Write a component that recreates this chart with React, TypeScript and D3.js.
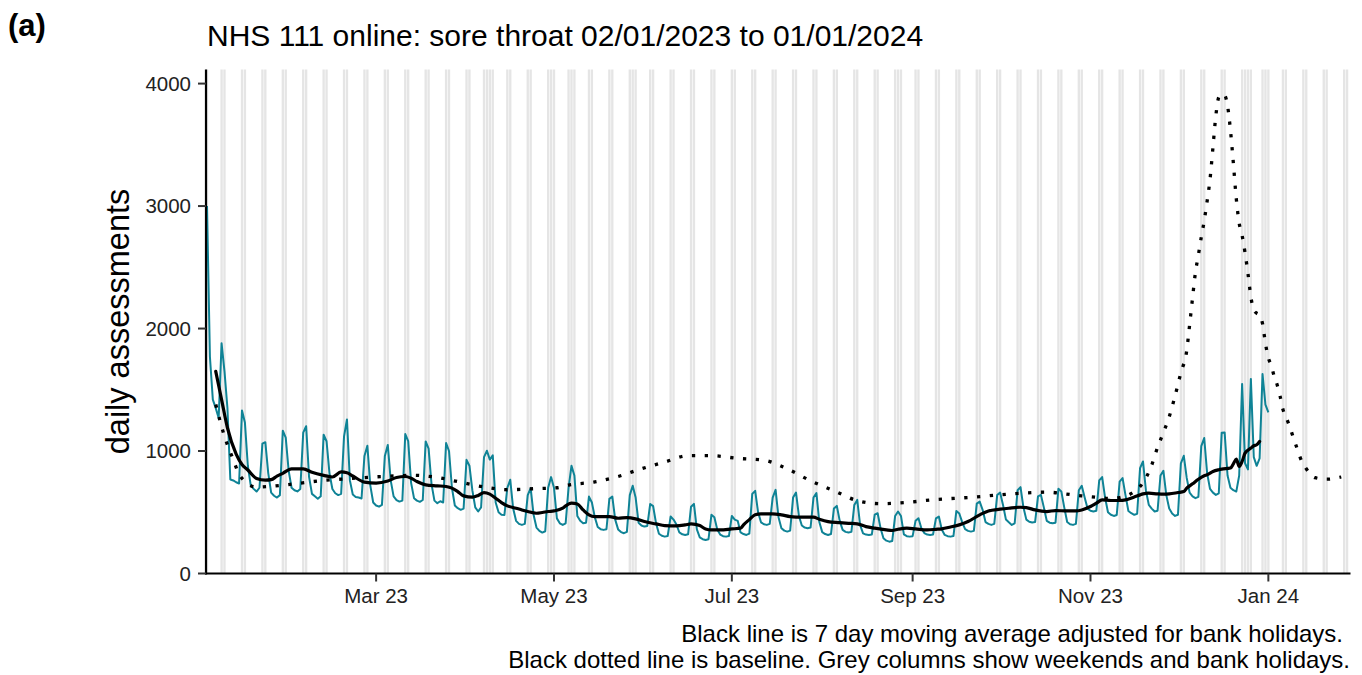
import React from 'react';
import * as d3 from 'd3';

// NHS 111 online, sore throat: daily assessments, 02/01/2023 to 01/01/2024
const startDate = Date.UTC(2023, 0, 2);
const axisEnd = Date.UTC(2024, 0, 29);

// one row per week, Mon..Sun, first row is w/c 02/01/2023
const dailyWeeks: number[][] = [
  [3000, 1770, 1420, 1350, 1270, 1880, 1650],
  [1353, 767, 760, 745, 735, 1330, 1233],
  [880, 720, 691, 669, 700, 1060, 1072],
  [820, 660, 635, 620, 640, 1166, 1110],
  [840, 700, 680, 670, 690, 1150, 1202],
  [790, 650, 630, 610, 630, 1133, 1080],
  [820, 690, 655, 640, 650, 1120, 1257],
  [760, 645, 625, 620, 612, 960, 1043],
  [720, 580, 555, 546, 560, 960, 1050],
  [760, 630, 600, 587, 595, 1138, 1080],
  [740, 615, 595, 585, 600, 1078, 1020],
  [730, 595, 574, 590, 580, 1065, 1000],
  [700, 555, 533, 520, 530, 928, 880],
  [680, 540, 506, 540, 950, 1002, 930],
  [964, 580, 500, 480, 478, 700, 765],
  [530, 430, 405, 397, 405, 640, 697],
  [480, 375, 348, 334, 345, 700, 787],
  [700, 450, 410, 397, 410, 700, 879],
  [800, 470, 430, 410, 415, 628, 580],
  [460, 380, 362, 356, 362, 610, 628],
  [440, 360, 338, 329, 340, 640, 716],
  [620, 415, 392, 383, 388, 568, 550],
  [410, 325, 308, 301, 306, 465, 440],
  [400, 335, 320, 315, 320, 545, 568],
  [360, 295, 280, 274, 280, 479, 460],
  [360, 318, 305, 301, 306, 470, 440],
  [430, 335, 322, 315, 325, 650, 675],
  [500, 418, 402, 397, 405, 620, 683],
  [460, 370, 350, 342, 350, 620, 661],
  [470, 392, 375, 370, 375, 620, 656],
  [420, 338, 322, 315, 322, 530, 552],
  [430, 356, 340, 334, 340, 560, 601],
  [395, 328, 318, 315, 318, 480, 492],
  [370, 288, 268, 260, 265, 470, 506],
  [470, 320, 305, 301, 305, 430, 451],
  [370, 330, 318, 315, 318, 450, 465],
  [360, 315, 305, 301, 306, 511, 490],
  [420, 362, 348, 342, 348, 570, 587],
  [520, 420, 405, 397, 405, 640, 661],
  [560, 440, 418, 397, 410, 680, 705],
  [540, 440, 422, 416, 420, 630, 642],
  [540, 430, 415, 410, 415, 691, 670],
  [540, 420, 402, 397, 405, 680, 716],
  [620, 530, 512, 506, 512, 760, 787],
  [620, 500, 480, 470, 478, 750, 779],
  [640, 510, 492, 479, 488, 860, 915],
  [680, 560, 530, 506, 512, 800, 838],
  [640, 530, 490, 470, 480, 900, 961],
  [780, 660, 630, 615, 625, 1040, 1106],
  [820, 690, 660, 642, 655, 1150, 1152],
  [800, 700, 680, 669, 800, 1548, 900],
  [850, 1589, 950, 879, 940, 1629, 1378],
];
const finalDay = [1315]; // 01/01/2024

// 7 day moving average (adjusted for bank holidays): [day index, value]
const movingAverage: [number, number][] = [
  [3, 1650], [5, 1420], [7, 1190], [10, 975], [12, 890], [14, 845], [17, 776],
  [20, 762], [22, 766], [24, 795], [26, 818], [29, 855], [33, 855], [36, 826],
  [40, 801], [43, 788], [46, 829], [48, 822], [50, 796], [54, 746], [58, 738],
  [62, 755], [65, 784], [68, 792], [70, 778], [72, 751], [75, 724], [79, 716],
  [82, 710], [84, 697], [86, 669], [88, 634], [91, 623], [93, 637], [95, 661],
  [97, 648], [99, 615], [101, 579], [103, 552], [106, 533], [108, 519], [110, 506],
  [113, 492], [115, 498], [117, 506], [119, 511], [122, 533], [123, 552], [125, 574],
  [127, 568], [129, 519], [131, 479], [133, 465], [138, 465], [141, 451], [144, 456],
  [147, 446], [150, 424], [154, 405], [157, 391], [161, 389], [164, 397], [166, 405],
  [169, 391], [171, 364], [173, 356], [176, 356], [180, 364], [183, 370], [184, 397],
  [186, 440], [188, 479], [190, 487], [194, 487], [197, 479], [200, 465], [204, 460],
  [208, 460], [210, 443], [213, 424], [217, 416], [220, 410], [223, 405], [226, 383],
  [229, 370], [233, 356], [235, 351], [237, 361], [240, 370], [243, 364], [247, 356],
  [250, 361], [252, 365], [255, 380], [258, 397], [261, 424], [265, 479], [268, 511],
  [272, 525], [275, 533], [279, 541], [281, 538], [284, 519], [288, 506], [291, 514],
  [295, 511], [298, 511], [300, 519], [303, 547], [305, 574], [307, 601], [310, 596],
  [313, 596], [315, 601], [318, 625], [320, 642], [321, 650], [323, 656], [326, 650],
  [328, 648], [330, 650], [333, 661], [335, 669], [336, 697], [338, 732], [340, 770],
  [342, 798], [343, 806], [345, 833], [347, 847], [348, 852], [351, 861], [352, 896],
  [353, 934], [354, 874], [355, 915], [356, 983], [358, 1024], [359, 1043], [360, 1051],
  [361, 1078],
];

// baseline: [day index, value]
const baseline: [number, number][] = [
  [3, 1380], [6, 1120], [9, 930], [11, 810], [13, 752], [17, 705], [22, 712],
  [31, 735], [40, 760], [49, 775], [57, 788], [66, 798], [71, 802], [79, 784],
  [87, 745], [95, 706], [103, 684], [112, 692], [120, 700], [124, 722], [133, 748],
  [141, 792], [149, 855], [157, 910], [165, 962], [173, 962], [182, 940], [191, 925],
  [199, 855], [207, 757], [215, 676], [223, 595], [231, 570], [240, 580], [248, 600],
  [262, 622], [279, 655], [288, 664], [297, 642], [305, 622], [310, 612], [313, 620],
  [316, 640], [318, 668], [320, 710], [322, 780], [324, 885], [326, 1030], [328, 1150],
  [330, 1280], [332, 1450], [334, 1640], [336, 1820], [337, 2030], [338, 2250],
  [339, 2460], [340, 2600], [341, 2747], [342, 2880], [343, 3040], [344, 3220],
  [345, 3480], [346, 3740], [347, 3890], [348, 3915], [349, 3905], [350, 3820],
  [351, 3620], [352, 3350], [353, 3060], [354, 2860], [355, 2760], [356, 2620],
  [357, 2450], [358, 2260], [359, 2150], [360, 2125], [361, 2110], [362, 2040],
  [363, 1880], [364, 1760], [365, 1700], [366, 1610], [367, 1542], [368, 1450],
  [369, 1340], [370, 1280], [371, 1220], [372, 1150], [373, 1080], [374, 1010],
  [375, 942], [377, 855], [380, 782], [384, 770], [389, 788],
];

const bankHolidays = [
  '2023-01-02', '2023-04-07', '2023-04-10', '2023-05-01', '2023-05-08',
  '2023-05-29', '2023-08-28', '2023-12-25', '2023-12-26', '2024-01-01',
];

const yTicks = [0, 1000, 2000, 3000, 4000];
const xTickDates = ['2023-03-01', '2023-05-01', '2023-07-01', '2023-09-01', '2023-11-01', '2024-01-01'];

const FONT = "'Liberation Sans', Arial, Helvetica, sans-serif";

const App: React.FC = () => {
  const left = 207;
  const right = 1350;
  const top = 69.5;
  const bottom = 573.5;

  const x = d3.scaleUtc().domain([startDate, axisEnd]).range([left, right]);
  const y = d3.scaleLinear().domain([0, 4115]).range([bottom, top]);
  const day = (i: number) => d3.utcDay.offset(new Date(startDate), i);
  const dayW = x(day(1)) - x(day(0));

  const daily = dailyWeeks.flat().concat(finalDay);

  const dailyLine = d3.line<number>().x((_, i) => x(day(i))).y(v => y(v));
  const pairLine = d3.line<[number, number]>()
    .x(d => x(day(d[0])))
    .y(d => y(d[1]))
    .curve(d3.curveMonotoneX);

  const nDays = d3.utcDay.count(new Date(startDate), new Date(axisEnd));
  const greyDays: Date[] = [];
  for (let i = 0; i <= nDays; i++) {
    const dt = day(i);
    const wd = dt.getUTCDay();
    const iso = d3.utcFormat('%Y-%m-%d')(dt);
    if (wd === 0 || wd === 6 || bankHolidays.includes(iso)) greyDays.push(dt);
  }

  const tickFmt = d3.utcFormat('%b %y');

  return (
    <svg width={1362} height={675} style={{ position: 'absolute', left: 0, top: 0, background: '#fff' }}
      fontFamily={FONT}>
      <rect x={0} y={0} width={1362} height={675} fill="#fff" />
      <g>
        {greyDays.map((d, i) => (
          <rect key={i} x={x(d) - dayW * 0.4} y={top} width={dayW * 0.8} height={bottom - top} fill="#e5e5e5" />
        ))}
      </g>

      <path d={dailyLine(daily) || ''} fill="none" stroke="#0f8396" strokeWidth={2} strokeLinejoin="round" />
      <path d={pairLine(movingAverage) || ''} fill="none" stroke="#000" strokeWidth={3.2} strokeLinejoin="round" strokeLinecap="round" />
      <path d={pairLine(baseline) || ''} fill="none" stroke="#000" strokeWidth={3.3} strokeDasharray="3.3 9.5" />

      {/* axes */}
      <line x1={206} x2={206} y1={top} y2={bottom + 1} stroke="#000" strokeWidth={2.2} />
      <line x1={205} x2={right + 0.5} y1={bottom} y2={bottom} stroke="#000" strokeWidth={2.2} />
      {yTicks.map(t => (
        <g key={t}>
          <line x1={198} x2={206} y1={y(t)} y2={y(t)} stroke="#333" strokeWidth={2} />
          <text x={191} y={y(t) + 7.3} fontSize={20.5} textAnchor="end" fill="#222">{t}</text>
        </g>
      ))}
      {xTickDates.map(s => {
        const d = d3.utcParse('%Y-%m-%d')(s) as Date;
        return (
          <g key={s}>
            <line x1={x(d)} x2={x(d)} y1={bottom} y2={bottom + 8} stroke="#333" strokeWidth={2} />
            <text x={x(d)} y={603} fontSize={20.5} textAnchor="middle" fill="#222">{tickFmt(d)}</text>
          </g>
        );
      })}

      <text transform={`translate(129,${(top + bottom) / 2}) rotate(-90)`} fontSize={32.5} textAnchor="middle" fill="#000">
        daily assessments
      </text>

      <text x={207} y={46} fontSize={30} fill="#000">NHS 111 online: sore throat 02/01/2023 to 01/01/2024</text>
      <text x={8} y={36} fontSize={31} fontWeight="bold" fill="#000">(a)</text>

      <text x={1343} y={642} fontSize={24} textAnchor="end" fill="#000">
        Black line is 7 day moving average adjusted for bank holidays.
      </text>
      <text x={1350} y={668} fontSize={24} textAnchor="end" fill="#000">
        Black dotted line is baseline. Grey columns show weekends and bank holidays.
      </text>
    </svg>
  );
};

export default App;
